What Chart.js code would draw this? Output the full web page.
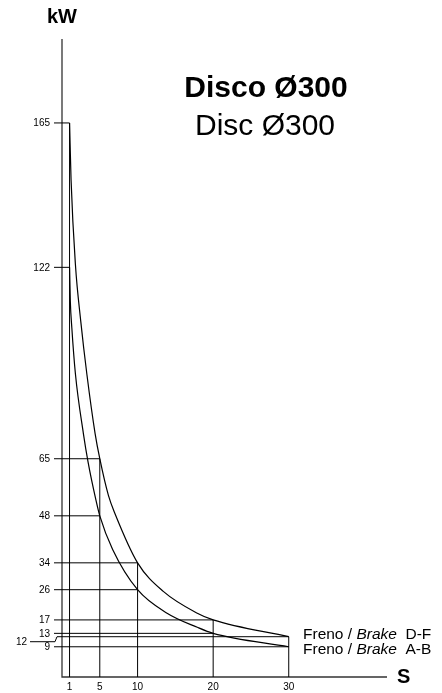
<!DOCTYPE html>
<html>
<head>
<meta charset="utf-8">
<script src="https://cdn.jsdelivr.net/npm/chart.js@4"></script>
<style>
  html, body { margin: 0; padding: 0; background: #fff; }
  canvas { display: block; }
</style>
</head>
<body>
<canvas id="chart" width="442" height="693"></canvas>
<script>
// marked points (x in s, kW)
const xMarks = [1, 5, 10, 20, 30];
const markDF = [165, 65, 34, 17, 12];
const markAB = [122, 48, 26, 13, 9];

// curve points
const dfX = [1, 1.2, 1.77, 2.48, 3.3, 4.38, 5, 6.15, 7, 10, 13.4, 17.9, 20, 30];
const dfY = [165, 148, 123, 106, 90, 72.5, 65, 54, 48.7, 34, 25.5, 19, 17, 12];
const abX = [1, 1.1, 1.3, 1.77, 2.83, 3.45, 4.5, 5, 6.7, 10, 13.9, 17.9, 20, 30];
const abY = [122, 112, 104, 90.4, 72.5, 64, 52.6, 48, 38, 26, 19, 14.8, 13, 9];

// axis tick labels
const yTicks = [165, 122, 65, 48, 34, 26, 17, 13, 12, 9];
const yTickText = ["165", "122", "65", "48", "34", "26", "17", "13", "12", "9"];
const xTickText = ["1", "5", "10", "20", "30"];

const FONT = '"Liberation Sans", Arial, Helvetica, sans-serif';

const toPoints = (xs, ys) => xs.map((x, i) => ({ x: x, y: ys[i] }));

// reference lines, tick marks and texts
const drawing = {
  id: "drawing",
  afterDatasetsDraw(chart) {
    const ctx = chart.ctx;
    const xs = chart.scales.x;
    const ys = chart.scales.y;
    const x0 = xs.getPixelForValue(0);
    const y0 = ys.getPixelForValue(0);
    ctx.save();
    ctx.fillStyle = "#000";

    // axes
    ctx.strokeStyle = "#333";
    ctx.lineWidth = 1.3;
    ctx.beginPath();
    ctx.moveTo(x0, chart.chartArea.top);
    ctx.lineTo(x0, y0);
    ctx.lineTo(chart.chartArea.right, y0);
    ctx.stroke();

    // horizontal + vertical guides to each marked point
    ctx.strokeStyle = "#000";
    ctx.lineWidth = 1;
    ctx.beginPath();
    xMarks.forEach((m, i) => {
      const px = xs.getPixelForValue(m);
      [markDF[i], markAB[i]].forEach((v) => {
        const py = ys.getPixelForValue(v);
        ctx.moveTo(x0 - 8, py);
        ctx.lineTo(px, py);
      });
      ctx.moveTo(px, y0);
      ctx.lineTo(px, ys.getPixelForValue(Math.max(markDF[i], markAB[i])));
    });
    ctx.stroke();

    // y tick labels
    ctx.font = "10px " + FONT;
    ctx.textAlign = "right";
    ctx.textBaseline = "middle";
    yTicks.forEach((v, i) => {
      const py = ys.getPixelForValue(v);
      if (yTickText[i] === "12") {
        // offset label with a small kinked leader
        ctx.fillStyle = "#fff";
        ctx.fillRect(x0 - 9, py - 1, 4, 2);
        ctx.fillStyle = "#000";
        ctx.beginPath();
        ctx.moveTo(x0 - 32, py + 5);
        ctx.lineTo(x0 - 7, py + 5);
        ctx.lineTo(x0 - 5, py);
        ctx.stroke();
        ctx.fillText(yTickText[i], x0 - 35, py + 5.5);
      } else {
        ctx.fillText(yTickText[i], x0 - 12, py + 0.5);
      }
    });

    // x tick labels
    ctx.textAlign = "center";
    xMarks.forEach((m, i) => {
      ctx.fillText(xTickText[i], xs.getPixelForValue(m), y0 + 10);
    });

    // axis titles
    ctx.font = "bold 20px " + FONT;
    ctx.textAlign = "center";
    ctx.fillText("kW", x0, 17);
    ctx.textAlign = "left";
    ctx.fillText("S", chart.chartArea.right + 10, y0);

    // heading
    ctx.textAlign = "center";
    ctx.font = "bold 30px " + FONT;
    ctx.fillText("Disco Ø300", 266, 89);
    ctx.font = "30px " + FONT;
    ctx.fillText("Disc Ø300", 265, 127);

    // curve names
    ctx.textAlign = "left";
    const label = (py, tail) => {
      let px = 303;
      ctx.font = "15.5px " + FONT;
      ctx.fillText("Freno / ", px, py);
      px += ctx.measureText("Freno / ").width;
      ctx.font = "italic 15.5px " + FONT;
      ctx.fillText("Brake", px, py);
      px += ctx.measureText("Brake").width;
      ctx.font = "15.5px " + FONT;
      ctx.fillText("  " + tail, px, py);
    };
    label(635, "D-F");
    label(650, "A-B");
    ctx.restore();
  },
};

new Chart(document.getElementById("chart"), {
  type: "line",
  data: {
    datasets: [
      {
        label: "Freno / Brake D-F",
        data: toPoints(dfX, dfY),
        borderColor: "#000",
        borderWidth: 1.2,
        pointRadius: 0,
        cubicInterpolationMode: "monotone",
      },
      {
        label: "Freno / Brake A-B",
        data: toPoints(abX, abY),
        borderColor: "#000",
        borderWidth: 1.2,
        pointRadius: 0,
        cubicInterpolationMode: "monotone",
      },
    ],
  },
  options: {
    responsive: false,
    animation: false,
    devicePixelRatio: 1,
    layout: { padding: { left: 62, right: 55, top: 39, bottom: 16 } },
    plugins: { legend: { display: false }, tooltip: { enabled: false } },
    scales: {
      x: { type: "linear", min: 0, max: 43, display: false },
      y: { type: "linear", min: 0, max: 190, display: false },
    },
  },
  plugins: [drawing],
});
</script>
</body>
</html>
